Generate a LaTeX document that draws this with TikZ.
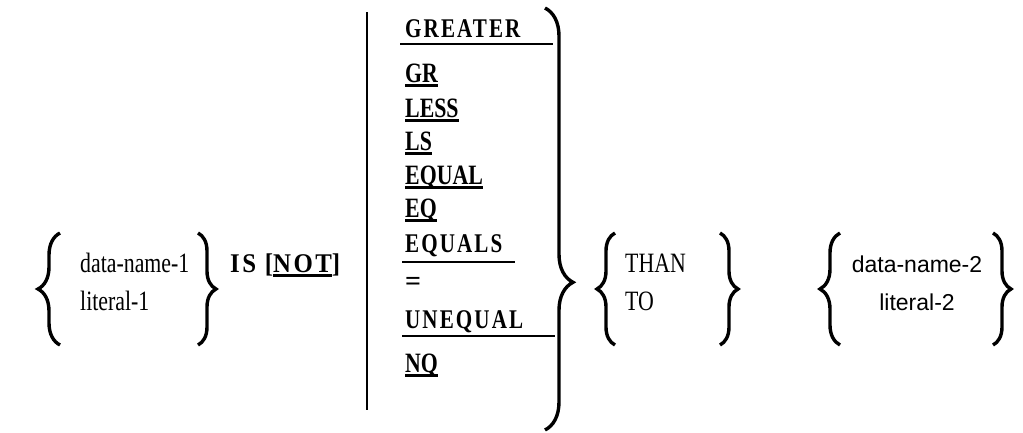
\documentclass[tikz,border=0pt]{standalone}
\usepackage{fontspec}
\setmainfont{Liberation Serif}
\setsansfont{Liberation Sans}
\newfontfamily\wideserif[LetterSpace=10]{Liberation Serif}
\usetikzlibrary{decorations.pathreplacing,positioning}
\tikzset{
  brc/.style={decorate,decoration={brace,amplitude=#1},line width=3.4pt},
  brc/.default=18pt,
  kw/.style={font=\fontsize{28}{28}\selectfont\bfseries,anchor=base west,inner sep=0pt},
  wkw/.style={font=\fontsize{27}{27}\selectfont\wideserif\bfseries,anchor=base west,inner sep=0pt},
  word/.style={font=\fontsize{28}{28}\selectfont,anchor=base west,inner sep=0pt},
  sword/.style={font=\fontsize{23}{23}\selectfont\sffamily,anchor=base,inner sep=0pt},
  rule/.style={line width=2.6pt}
}
\newcommand\ulkw[1]{\setbox0\hbox{#1}\rlap{\rule[-4.5pt]{\wd0}{2.2pt}}\box0}
\newcommand\narrow[1]{\scalebox{0.78}[1]{#1}}

\begin{document}
\begin{tikzpicture}[x=1pt,y=-1pt]
  \useasboundingbox (0,0) rectangle (1023,432);
  % first operand
  \node[word] (dn1) at (80,272) {\narrow{data-name-1}};
  \node[word] (lit1) at (80,310) {\narrow{literal-1}};
  \draw[brc=22pt] (60,345) -- (60,233);
  \draw[brc] (198,233) -- (198,345);
  \node[wkw] (isnot) at (230,272) {\scalebox{0.92}[1]{IS [\ulkw{NOT}]}};
  % relation list
  \draw[line width=2.5pt] (367,12) -- (367,410);
  \node[wkw] (gtr) at (405,37) {\narrow{GREATER}};
  \foreach \name/\y in {GR/82,LESS/117,LS/150,EQUAL/184,EQ/217,NQ/372}
    \node[kw] (\name) at (405,\y) {\narrow{\ulkw{\name}}};
  \node[wkw] (eqs) at (405,252) {\narrow{EQUALS}};
  \node[kw] (sym) at (405,290) {=};
  \node[wkw] (uneq) at (405,328) {\narrow{UNEQUAL}};
  \draw[rule] ([shift={(-5pt,-7pt)}]gtr.base west) -- ++(153,0);
  \draw[rule] ([shift={(-3pt,-10pt)}]eqs.base west) -- ++(113,0);
  \draw[rule] ([shift={(-3pt,-8pt)}]uneq.base west) -- ++(153,0);
  \coordinate (btop) at (545,8);
  \coordinate (bbot) at (545,430);
  \draw[brc=28pt,decoration={aspect=0.65}] (btop) -- (bbot);
  % THAN / TO
  \node[word] (than) at (625,272) {\narrow{THAN}};
  \node[word] (to) at (625,310) {\narrow{TO}};
  \draw[brc] (615,345) -- (615,233);
  \draw[brc] (720,233) -- (720,345);
  % second operand
  \node[sword] (dn2) at (917,272) {data-name-2};
  \node[sword] (lit2) at (917,310) {literal-2};
  \draw[brc=20pt] (840,345) -- (840,233);
  \draw[brc] (993,233) -- (993,345);
\end{tikzpicture}
\end{document}
